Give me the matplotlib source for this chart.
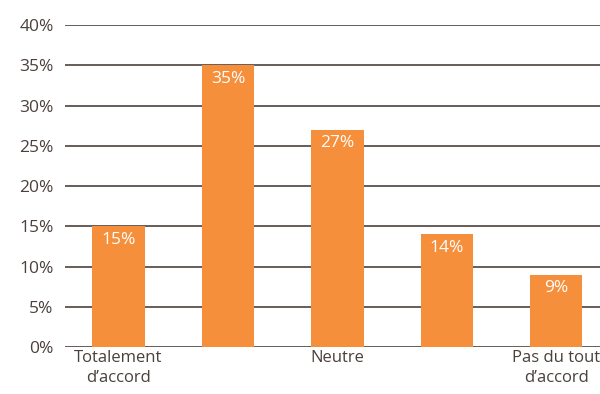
import matplotlib
matplotlib.use("Agg")
import matplotlib.pyplot as plt

categories = ["Totalement\nd\u2019accord", "", "Neutre", "", "Pas du tout\nd\u2019accord"]
values = [15, 35, 27, 14, 9]
yticks = [0, 5, 10, 15, 20, 25, 30, 35, 40]

plt.rcParams['font.family'] = ['Open Sans', 'DejaVu Sans']
text_color = "#4a403c"
bar_color = "#f58f3c"
grid_color = "#5a504b"

fig = plt.figure(figsize=(6.0, 3.94), dpi=100)
ax = fig.add_axes([0.108, 0.119, 0.892, 0.8175])

x = list(range(len(values)))
bars = ax.bar(x, values, width=0.48, color=bar_color, zorder=3)

for xi, v in zip(x, values):
    ax.annotate(f"{v}%", xy=(xi, v), xytext=(0, -4), textcoords="offset points",
                ha="center", va="top", color="white", fontsize=12.5, zorder=4)

ax.set_ylim(0, 40)
ax.set_xlim(-0.49, 4.4)
ax.set_yticks(yticks)
ax.set_yticklabels([f"{t}%" for t in yticks], color=text_color, fontsize=12.5)
ax.set_xticks(x)
ax.set_xticklabels(categories, color=text_color, fontsize=12, linespacing=1.35)
ax.tick_params(axis="both", length=0)
ax.tick_params(axis="y", pad=8)
ax.tick_params(axis="x", pad=2)
ax.yaxis.grid(True, color=grid_color, linewidth=1.3, zorder=0)
for s in ax.spines.values():
    s.set_visible(False)

fig.savefig("out.png", dpi=100)
